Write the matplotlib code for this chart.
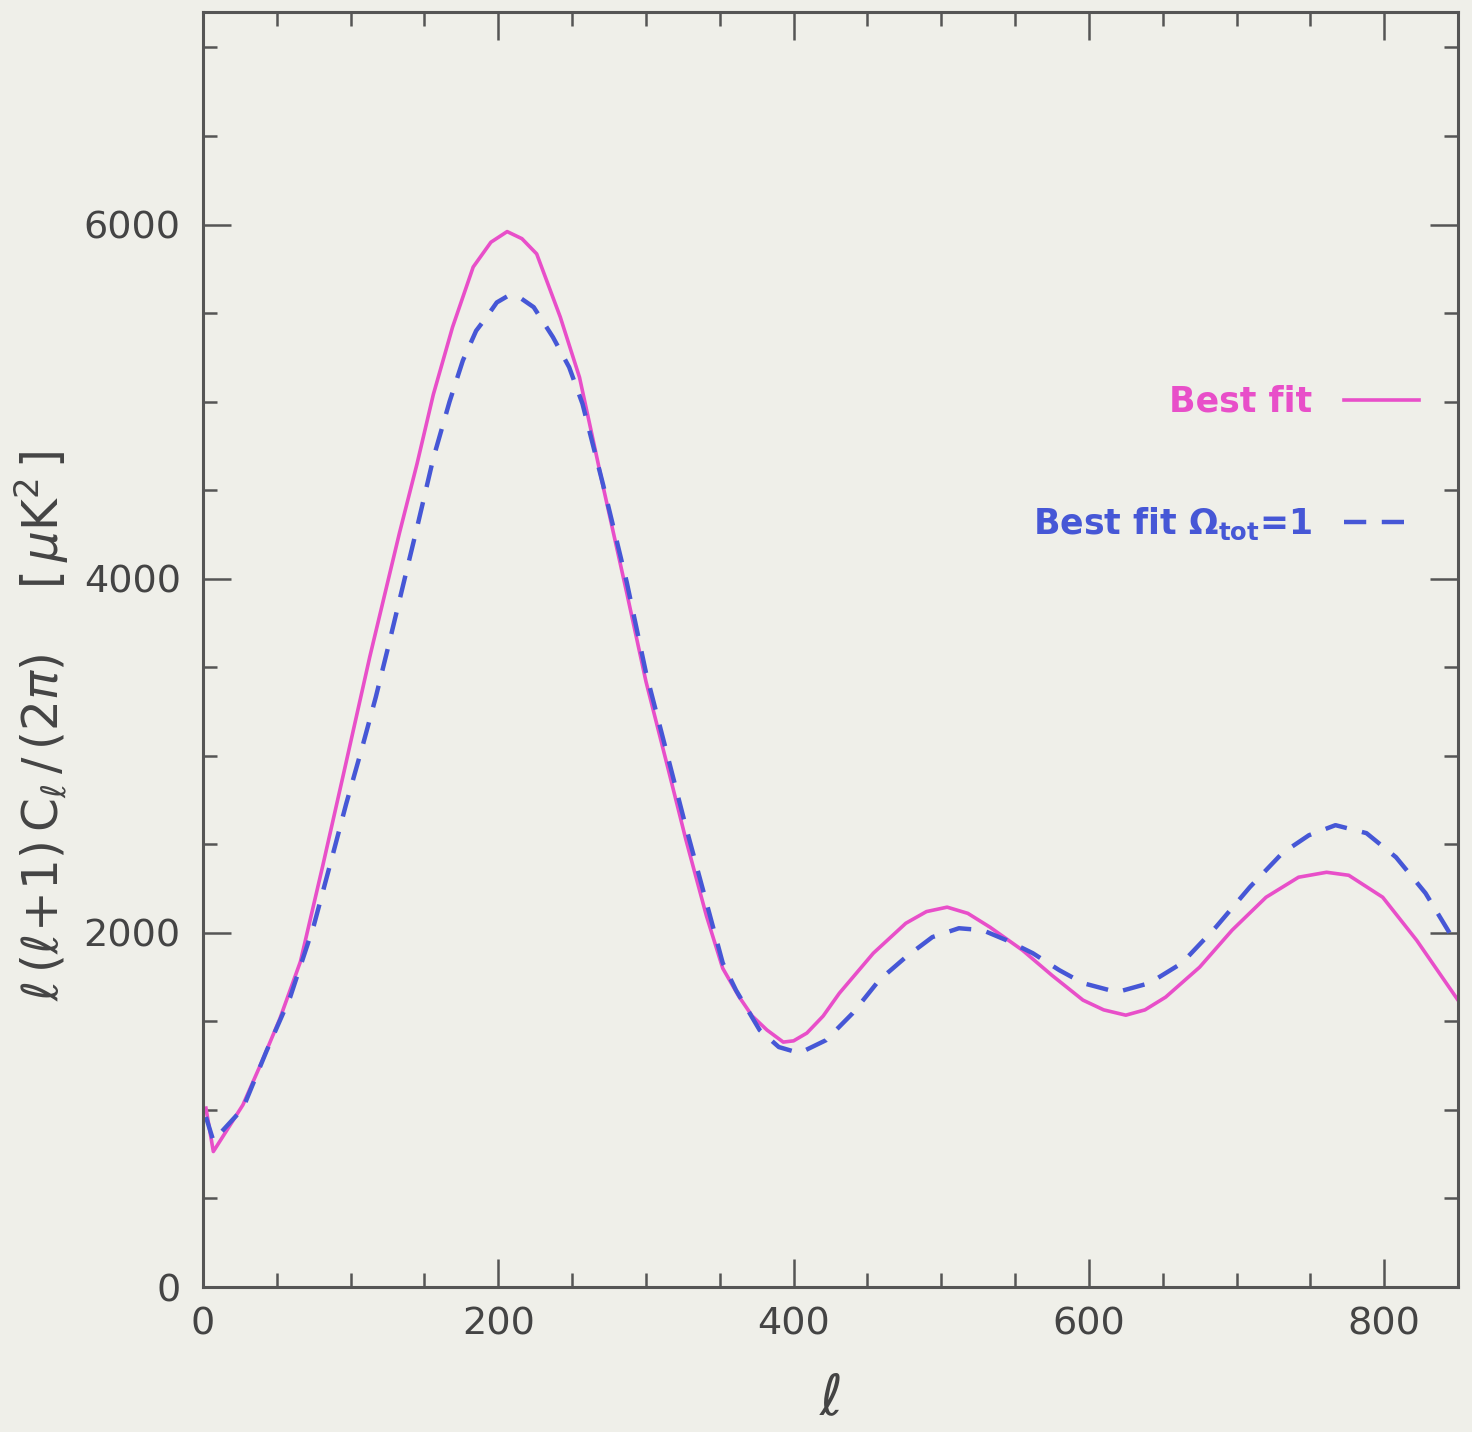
import matplotlib
matplotlib.use("Agg")
import matplotlib.pyplot as plt
from matplotlib.ticker import MultipleLocator

# Best fit (solid magenta)
ell_best = [2, 7, 15, 27, 40, 52, 66, 81, 95, 113, 133, 145, 156, 169, 183, 195, 206, 216,
            226, 242, 255, 263, 271, 287, 300, 314, 327, 341, 352, 363, 372, 382, 393, 400,
            409, 420, 431, 454, 476, 490, 504, 518, 533, 555, 575, 596, 610, 625, 638, 652,
            675, 697, 720, 742, 761, 776, 799, 822, 850]
cl_best = [1010, 765, 870, 1028, 1275, 1514, 1838, 2375, 2891, 3560, 4256, 4650, 5040, 5420,
           5760, 5900, 5960, 5920, 5834, 5477, 5137, 4830, 4520, 3920, 3420, 2960, 2528, 2095,
           1800, 1640, 1530, 1451, 1383, 1390, 1434, 1530, 1659, 1885, 2054, 2120, 2145, 2110,
           2032, 1902, 1760, 1620, 1565, 1535, 1565, 1637, 1806, 2015, 2201, 2314, 2342, 2325,
           2201, 1958, 1620]

# Best fit Omega_tot = 1 (dashed blue)
ell_flat = [2, 7, 27, 43, 59, 75, 88, 97, 108, 117, 125, 145, 156, 167, 176, 185, 192, 199,
            207, 215, 224, 237, 248, 257, 271, 287, 300, 314, 327, 341, 352, 361, 377, 390,
            404, 422, 440, 458, 476, 494, 512, 528, 544, 562, 580, 596, 619, 641, 663, 686,
            709, 731, 749, 767, 788, 808, 828, 846, 850]
cl_flat = [960, 826, 1008, 1332, 1636, 2040, 2445, 2729, 3053, 3330, 3600, 4290, 4680, 5000,
           5232, 5400, 5477, 5560, 5599, 5585, 5533, 5364, 5194, 4988, 4530, 3980, 3470, 3020,
           2600, 2170, 1830, 1676, 1451, 1355, 1321, 1394, 1546, 1733, 1863, 1976, 2026, 2015,
           1959, 1885, 1789, 1716, 1665, 1716, 1829, 2032, 2258, 2450, 2551, 2608, 2563, 2427,
           2224, 1976, 1930]

label_best = "Best fit"
label_flat = r"Best fit $\mathbf{\Omega_{tot}}$=1"
x_ticks = [0, 200, 400, 600, 800]
y_ticks = [0, 2000, 4000, 6000]

bg = "#efefe9"
pink = "#e84fc9"
blue = "#4657d6"
grey = "#555555"

fig = plt.figure(figsize=(14.72, 14.32), dpi=100, facecolor=bg)
ax = fig.add_axes([203/1472, 1 - 1287/1432, 1255/1472, 1275/1432], facecolor=bg)

ax.plot(ell_best, cl_best, color=pink, lw=2.6, label=label_best)
ax.plot(ell_flat, cl_flat, color=blue, lw=3.2, ls=(0, (5, 3.5)), label=label_flat)

ax.set_xlim(0, 850)
ax.set_ylim(0, 7200)
ax.set_xticks(x_ticks)
ax.set_yticks(y_ticks)
ax.xaxis.set_minor_locator(MultipleLocator(50))
ax.yaxis.set_minor_locator(MultipleLocator(500))
ax.tick_params(which="both", direction="in", top=True, right=True, colors=grey,
               labelsize=27.5, width=1.8)
ax.tick_params(which="major", length=20)
ax.tick_params(which="minor", length=10)
ax.tick_params(axis="x", pad=14)
ax.tick_params(axis="y", pad=16)
for lab in ax.get_xticklabels() + ax.get_yticklabels():
    lab.set_color("#444444")
for s in ax.spines.values():
    s.set_color(grey)
    s.set_linewidth(2.2)

ax.set_xlabel(r"$\ell$", fontsize=40, color="#444444", labelpad=22)
ax.set_ylabel(r"$\ell\,(\ell\!+\!1)\,\mathrm{C}_\ell\,/\,(2\pi)\quad\ [\,\mu\mathrm{K}^2\,]$",
              fontsize=35, color="#444444")
ax.yaxis.set_label_coords(-0.105, 0.44)

leg = ax.legend(loc="center right", bbox_to_anchor=(0.994, 0.646), frameon=False,
                markerfirst=False, handlelength=2.16, labelspacing=2.5,
                handletextpad=0.92, prop={"weight": "bold", "size": 25})
for txt, c in zip(leg.get_texts(), [pink, blue]):
    txt.set_color(c)

fig.savefig("out.png", dpi=100, facecolor=bg)
